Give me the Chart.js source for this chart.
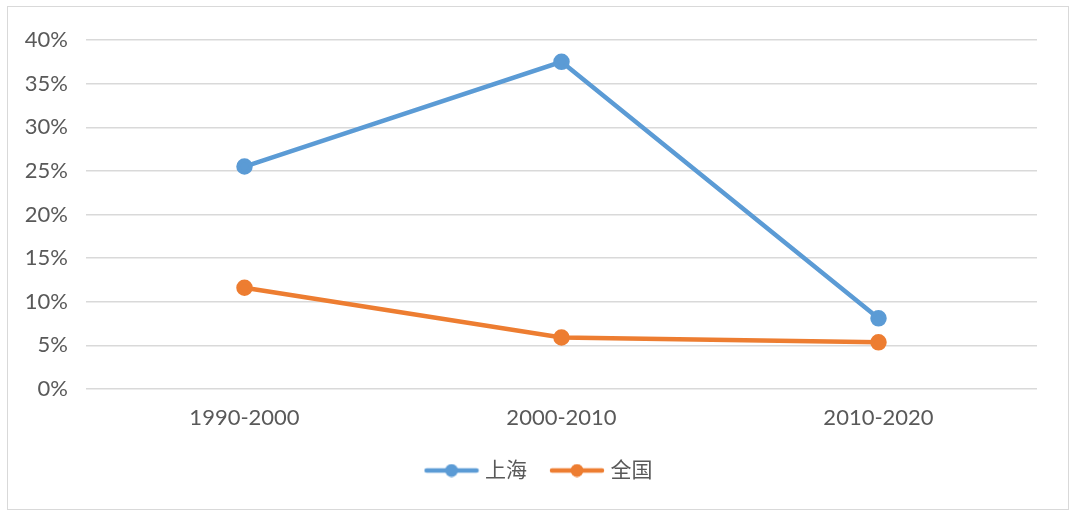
<!DOCTYPE html>
<html>
<head>
<meta charset="utf-8">
<script src="https://cdn.jsdelivr.net/npm/chart.js@4"></script>
<style>
	html, body { margin: 0; padding: 0; background: #fff; }
	#frame {
		position: absolute;
		left: 7px;
		top: 6px;
		width: 1062px;
		height: 504px;
		border: 1.5px solid #d9d9d9;
		box-sizing: border-box;
	}
	#wrap { position: absolute; left: 0; top: 0; width: 1080px; height: 518px; }
</style>
</head>
<body>
<div id="frame"></div>
<div id="wrap"><canvas id="myChart" width="1080" height="518"></canvas></div>
<script>
var periods = ["1990-2000", "2000-2010", "2010-2020"];
var shanghai = [25.5, 37.5, 8.1];
var national = [11.6, 5.9, 5.35];
var seriesNames = ["上海", "全国"];
var seriesColors = ["#5B9BD5", "#ED7D31"];

var textColor = "#595959";
var fontFamily = "Lato, 'Noto Sans CJK SC', sans-serif";

// legend marker: a short line with a dot in the middle
function legendMarker(color) {
	const c = document.createElement("canvas");
	c.width = 56;
	c.height = 14;
	const ctx = c.getContext("2d");
	ctx.strokeStyle = color;
	ctx.lineWidth = 4.5;
	ctx.lineCap = "round";
	ctx.beginPath();
	ctx.moveTo(3, 7);
	ctx.lineTo(53, 7);
	ctx.stroke();
	ctx.fillStyle = color;
	ctx.beginPath();
	ctx.arc(28, 7, 6.5, 0, Math.PI * 2);
	ctx.fill();
	return c;
}

// center the legend on the whole frame rather than the padded box
const shiftLegend = {
	id: "shiftLegend",
	afterLayout(chart) {
		chart.legend.left += 17;
		chart.legend.right += 17;
	},
};

new Chart("myChart", {
	type: "line",
	plugins: [shiftLegend],
	data: {
		labels: periods,
		datasets: [
			{
				label: seriesNames[0],
				data: shanghai,
				borderColor: seriesColors[0],
				backgroundColor: seriesColors[0],
				borderWidth: 4.5,
				pointRadius: 6,
				pointHoverRadius: 6,
				tension: 0,
			},
			{
				label: seriesNames[1],
				data: national,
				borderColor: seriesColors[1],
				backgroundColor: seriesColors[1],
				borderWidth: 4.5,
				pointRadius: 6,
				pointHoverRadius: 6,
				tension: 0,
			},
		],
	},
	options: {
		responsive: false,
		animation: false,
		layout: { padding: { left: 10, right: 43, top: 40, bottom: 27 } },
		plugins: {
			tooltip: { enabled: false },
			legend: {
				position: "bottom",
				labels: {
					usePointStyle: true,
					pointStyleWidth: 46,
					padding: 27,
					color: textColor,
					font: { family: fontFamily, size: 21 },
					generateLabels: function (chart) {
						return chart.data.datasets.map(function (ds, i) {
							return {
								text: ds.label,
								pointStyle: legendMarker(seriesColors[i]),
								fillStyle: seriesColors[i],
								strokeStyle: seriesColors[i],
								lineWidth: 0,
								fontColor: textColor,
								datasetIndex: i,
							};
						});
					},
				},
			},
		},
		scales: {
			x: {
				offset: true,
				grid: { display: false, drawTicks: false },
				border: { display: false },
				ticks: {
					color: textColor,
					padding: 16,
					maxRotation: 0,
					font: { family: fontFamily, size: 22 },
				},
				afterFit: function (scale) {
					scale.height = 44;
				},
			},
			y: {
				min: 0,
				max: 40,
				grid: { color: "#d9d9d9", lineWidth: 1.5, drawTicks: false },
				border: { display: false },
				ticks: {
					stepSize: 5,
					padding: 18,
					color: textColor,
					font: { family: fontFamily, size: 22 },
					callback: function (v) {
						return v + "%";
					},
				},
				afterFit: function (scale) {
					scale.width = 76;
				},
			},
		},
	},
});
</script>
</body>
</html>
